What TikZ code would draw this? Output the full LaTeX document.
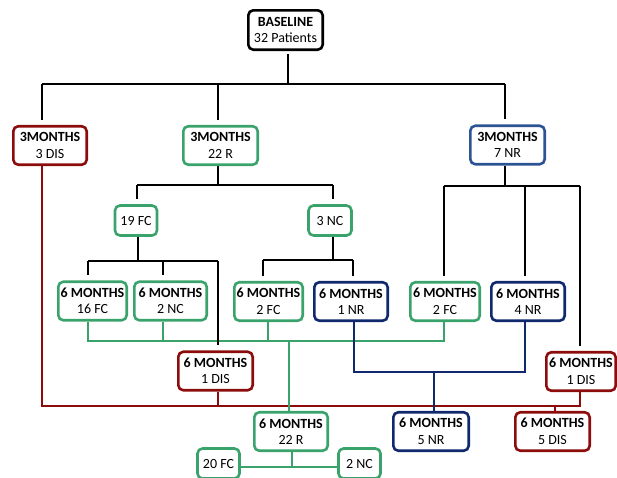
\documentclass[tikz,border=0pt]{standalone}
\usepackage{fontspec}
\setmainfont{Carlito}
\usetikzlibrary{backgrounds}
\definecolor{cred}{RGB}{140,12,12}
\definecolor{cgreen}{RGB}{58,163,108}
\definecolor{cblue}{RGB}{44,84,148}
\definecolor{cnavy}{RGB}{16,40,108}
\begin{document}
\begin{tikzpicture}[x=1pt,y=-1pt,
  box/.style={draw, rounded corners=5pt, line width=2.6pt, fill=white, align=center,
    inner sep=0pt, font=\fontsize{14}{16.5}\selectfont, minimum height=38.5pt},
  sbox/.style={draw, rounded corners=5pt, line width=2.6pt, fill=white, align=center,
    inner sep=0pt, font=\fontsize{14}{16.5}\selectfont, minimum width=42pt, minimum height=30pt},
  blk/.style={draw=black, line width=2.6pt},
  grn/.style={draw=cgreen, line width=2.2pt},
  blu/.style={draw=cnavy, line width=2.3pt},
  rd/.style={draw=cred, line width=2.3pt},
  gap/.style={shorten >=5pt}
]
\useasboundingbox (0,0) rectangle (617,477);

% nodes
\node[box, draw=black, minimum width=74.4pt, minimum height=39.4pt] (base) at (285.5,30) {\textbf{BASELINE}\\32 Patients};
\node[box, draw=cred, minimum width=73.4pt] (m3dis) at (50,145.5) {\textbf{3MONTHS}\\3 DIS};
\node[box, draw=cgreen, minimum width=74.4pt] (m3r) at (220.5,145.5) {\textbf{3MONTHS}\\22 R};
\node[box, draw=cblue, minimum width=74.4pt] (m3nr) at (507.5,145) {\textbf{3MONTHS}\\7 NR};
\node[sbox, draw=cgreen] (fc19) at (136,220.5) {19 FC};
\node[sbox, draw=cgreen, minimum width=43pt] (nc3) at (330,220.5) {3 NC};
\node[box, draw=cgreen, minimum width=68.4pt] (s16fc) at (92.5,301) {\textbf{6 MONTHS}\\16 FC};
\node[box, draw=cgreen, minimum width=72.4pt] (s2nc) at (170.5,301) {\textbf{6 MONTHS}\\2 NC};
\node[box, draw=cgreen, minimum width=68.4pt] (s2fcA) at (268.5,301.5) {\textbf{6 MONTHS}\\2 FC};
\node[box, draw=cnavy, minimum width=73.4pt] (s1nr) at (351,301.5) {\textbf{6 MONTHS}\\1 NR};
\node[box, draw=cgreen, minimum width=69.4pt] (s2fcB) at (445,301.5) {\textbf{6 MONTHS}\\2 FC};
\node[box, draw=cnavy, minimum width=73.4pt] (s4nr) at (528,301.5) {\textbf{6 MONTHS}\\4 NR};
\node[box, draw=cred, minimum width=74.4pt] (s1disA) at (215.5,371) {\textbf{6 MONTHS}\\1 DIS};
\node[box, draw=cred, minimum width=69.4pt] (s1disB) at (581,371.5) {\textbf{6 MONTHS}\\1 DIS};
\node[box, draw=cgreen, minimum width=73.4pt] (s22r) at (291,431.5) {\textbf{6 MONTHS}\\22 R};
\node[box, draw=cnavy, minimum width=75.4pt] (s5nr) at (431,431.5) {\textbf{6 MONTHS}\\5 NR};
\node[box, draw=cred, minimum width=74.4pt] (s5dis) at (552.5,431.5) {\textbf{6 MONTHS}\\5 DIS};
\node[sbox, draw=cgreen] (fc20) at (218.5,463.5) {20 FC};
\node[sbox, draw=cgreen] (nc2) at (359.5,463.5) {2 NC};

% junction coordinates
\coordinate (jTop) at (288,84);
\coordinate (jL) at (42,84);
\coordinate (jM) at (218,84);
\coordinate (jR) at (505,84);
\coordinate (jA) at (218,185);
\coordinate (jA1) at (137,185);
\coordinate (jA2) at (333,185);
\coordinate (jB) at (138,261);
\coordinate (jB1) at (88,261);
\coordinate (jB2) at (163,261);
\coordinate (jB3) at (218,261);
\coordinate (jC) at (333,260);
\coordinate (jC1) at (263,260);
\coordinate (jC2) at (353,260);
\coordinate (jD) at (505,186);
\coordinate (jD1) at (444,186);
\coordinate (jD2) at (525,186);
\coordinate (jD3) at (580,186);
\coordinate (g1) at (88,341);
\coordinate (g2) at (163,341);
\coordinate (g3) at (268,341);
\coordinate (g4) at (444,341);
\coordinate (gM) at (289,341);
\coordinate (h0) at (292,467);
\coordinate (b1) at (354,372);
\coordinate (b2) at (525,372);
\coordinate (bM) at (434,372);
\coordinate (r1) at (42,406);
\coordinate (r2) at (218,406);
\coordinate (r3) at (580,406);
\coordinate (r4) at (555,406);

\begin{scope}[on background layer]
% red
\draw[rd] (m3dis.south -| r1) -- (r1) -- (r3) -- (s1disB.south -| r3);
\draw[rd] (s1disA.south -| r2) -- (r2);
\draw[rd] (r4) -- (r4 |- s5dis.north);
% green
\draw[grn] (s16fc.south -| g1) -- (g1) -- (g4) -- (s2fcB.south -| g4);
\draw[grn] (s2nc.south -| g2) -- (g2);
\draw[grn] (s2fcA.south -| g3) -- (g3);
\draw[grn] (gM) -- (gM |- s22r.north);
\draw[grn] (s22r.south -| h0) -- (h0);
\draw[grn] (h0 -| fc20.east) -- (h0 -| nc2.west);
% blue
\draw[blu] (s1nr.south -| b1) -- (b1) -- (b2) -- (s4nr.south -| b2);
\draw[blu] (bM) -- (bM |- s5nr.north);
% black
\draw[blk, shorten <=3pt] (base.south -| jTop) -- (jTop);
\draw[blk] (jL) -- (jR);
\draw[blk, gap] (jL) -- (jL |- m3dis.north);
\draw[blk, gap] (jM) -- (jM |- m3r.north);
\draw[blk, gap] (jR) -- (jR |- m3nr.north);
\draw[blk] (m3r.south -| jA) -- (jA);
\draw[blk] (jA1) -- (jA2);
\draw[blk, gap] (jA1) -- (jA1 |- fc19.north);
\draw[blk, gap] (jA2) -- (jA2 |- nc3.north);
\draw[blk] (fc19.south -| jB) -- (jB);
\draw[blk] (jB1) -- (jB3);
\draw[blk, gap] (jB1) -- (jB1 |- s16fc.north);
\draw[blk, gap] (jB2) -- (jB2 |- s2nc.north);
\draw[blk, gap] (jB3) -- (jB3 |- s1disA.north);
\draw[blk] (nc3.south -| jC) -- (jC);
\draw[blk] (jC1) -- (jC2);
\draw[blk, gap] (jC1) -- (jC1 |- s2fcA.north);
\draw[blk, gap] (jC2) -- (jC2 |- s1nr.north);
\draw[blk] (m3nr.south -| jD) -- (jD);
\draw[blk] (jD1) -- (jD3);
\draw[blk, gap] (jD1) -- (jD1 |- s2fcB.north);
\draw[blk, gap] (jD2) -- (jD2 |- s4nr.north);
\draw[blk, gap] (jD3) -- (jD3 |- s1disB.north);
\end{scope}
\end{tikzpicture}
\end{document}
